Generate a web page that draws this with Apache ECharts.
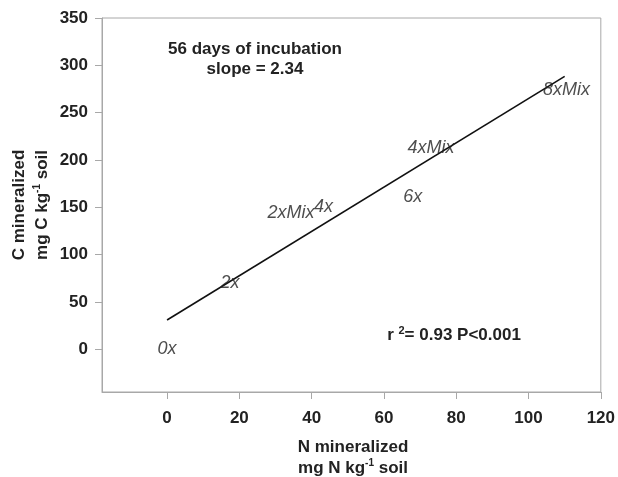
<!DOCTYPE html>
<html>
<head>
<meta charset="utf-8">
<script src="https://cdn.jsdelivr.net/npm/echarts@6/dist/echarts.min.js"></script>
<style>html,body{margin:0;padding:0;background:#fff;}#c{width:618px;height:477px;}</style>
</head>
<body>
<div id="c"></div>
<script>
// Treatment labels and their (N mineralized, C mineralized) positions
var treatments = ['0x', '2x', '2xMix', '4x', '6x', '4xMix', '8xMix'];
var nMineralized = [0, 17.4, 34.3, 43.3, 68, 73, 110.5];
var cMineralized = [0, 70, 144, 150, 161, 213, 274];
// Regression line end points (slope = 2.34)
var fitX = [0, 110];
var fitY = [31, 288.4];
// Axis tick values
var xTicks = [0, 20, 40, 60, 80, 100, 120];
var yTicks = [0, 50, 100, 150, 200, 250, 300, 350];

var FONT = "'Liberation Sans', Arial, Helvetica, sans-serif";
var chart = echarts.init(document.getElementById('c'), null, {renderer: 'canvas'});

var pts = treatments.map(function (t, i) { return {name: t, value: [nMineralized[i], cMineralized[i]]}; });
var fit = fitX.map(function (x, i) { return [x, fitY[i]]; });

chart.setOption({
  animation: false,
  backgroundColor: '#fff',
  grid: {left: 102, right: 16, top: 18, bottom: 85, show: true, borderColor: '#a8a8a8', borderWidth: 1, backgroundColor: 'transparent'},
  xAxis: {
    type: 'value', min: -18, max: 120,
    axisLine: {show: true, onZero: false, lineStyle: {color: '#a8a8a8', width: 1}},
    axisTick: {show: true, inside: false, length: 7, customValues: xTicks, lineStyle: {color: '#a8a8a8'}},
    axisLabel: {customValues: xTicks, margin: 18, fontFamily: FONT, fontWeight: 'bold', fontSize: 17, color: '#222'},
    splitLine: {show: false}
  },
  yAxis: {
    type: 'value', min: -45, max: 350,
    axisLine: {show: true, onZero: false, lineStyle: {color: '#a8a8a8', width: 1}},
    axisTick: {show: true, inside: false, length: 7, customValues: yTicks, lineStyle: {color: '#a8a8a8'}},
    axisLabel: {customValues: yTicks, margin: 14, fontFamily: FONT, fontWeight: 'bold', fontSize: 17, color: '#222'},
    splitLine: {show: false}
  },
  series: [
    {
      type: 'line', data: fit, symbol: 'none', silent: true,
      lineStyle: {color: '#111', width: 1.6}
    },
    {
      type: 'scatter', data: pts, symbolSize: 2, z: 5,
      itemStyle: {color: 'rgba(0,0,0,0)'},
      label: {show: true, position: 'inside', formatter: '{b}', fontFamily: FONT, fontStyle: 'italic', fontWeight: 'normal', fontSize: 18, color: '#222'}
    }
  ],
  graphic: [
    {type: 'text', x: 255, y: 49, style: {text: '56 days of incubation', font: 'bold 17px ' + FONT, fill: '#222', textAlign: 'center', textVerticalAlign: 'middle'}},
    {type: 'text', x: 255, y: 69, style: {text: 'slope = 2.34', font: 'bold 17px ' + FONT, fill: '#222', textAlign: 'center', textVerticalAlign: 'middle'}},
    {type: 'text', x: 454, y: 335, style: {
      text: '{b|r }{s|2}{b|= 0.93 P<0.001}', textAlign: 'center', textVerticalAlign: 'middle',
      rich: {b: {fontFamily: FONT, fontWeight: 'bold', fontSize: 17, fill: '#222', lineHeight: 20}, s: {fontFamily: FONT, fontWeight: 'bold', fontSize: 11, fill: '#222', verticalAlign: 'top', lineHeight: 14}}
    }},
    {type: 'text', x: 353, y: 447, style: {text: 'N mineralized', font: 'bold 17px ' + FONT, fill: '#222', textAlign: 'center', textVerticalAlign: 'middle'}},
    {type: 'text', x: 353, y: 468, style: {
      text: '{b|mg N kg}{s|-1}{b| soil}', textAlign: 'center', textVerticalAlign: 'middle',
      rich: {b: {fontFamily: FONT, fontWeight: 'bold', fontSize: 17, fill: '#222', lineHeight: 20}, s: {fontFamily: FONT, fontWeight: 'bold', fontSize: 10, fill: '#222', verticalAlign: 'top', lineHeight: 12}}
    }},
    {type: 'text', x: 19, y: 205, rotation: Math.PI / 2, style: {text: 'C mineralized', font: 'bold 17px ' + FONT, fill: '#222', textAlign: 'center', textVerticalAlign: 'middle'}},
    {type: 'text', x: 42, y: 205, rotation: Math.PI / 2, style: {
      text: '{b|mg C kg}{s|-1}{b| soil}', textAlign: 'center', textVerticalAlign: 'middle',
      rich: {b: {fontFamily: FONT, fontWeight: 'bold', fontSize: 17, fill: '#222', lineHeight: 20}, s: {fontFamily: FONT, fontWeight: 'bold', fontSize: 10, fill: '#222', verticalAlign: 'top', lineHeight: 12}}
    }}
  ]
});
</script>
</body>
</html>
